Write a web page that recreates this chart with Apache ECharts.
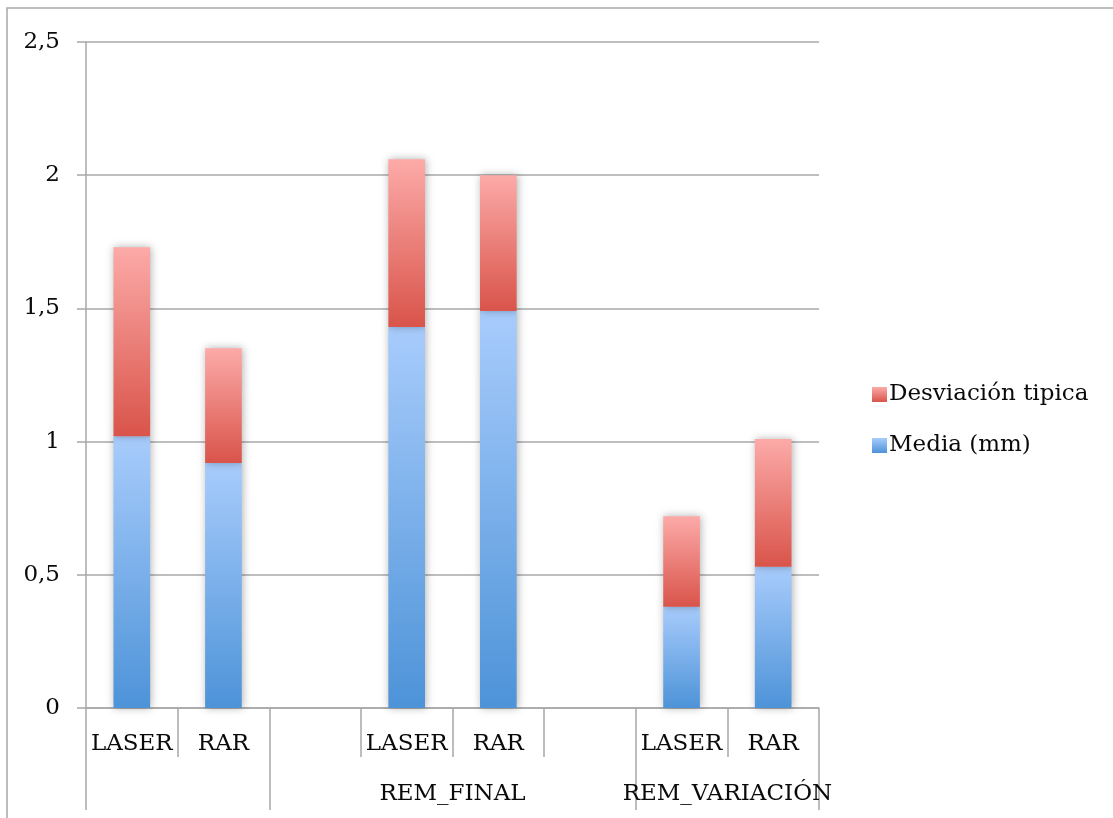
<!DOCTYPE html>
<html>
<head>
<meta charset="utf-8">
<script src="https://cdn.jsdelivr.net/npm/echarts@6/dist/echarts.min.js"></script>
<style>
  html, body { margin: 0; padding: 0; background: #ffffff; }
  #chart { width: 1113px; height: 818px; }
</style>
</head>
<body>
<div id="chart"></div>
<script>
// Category slots along the x axis (empty strings are spacer slots between groups)
const categories = ['LASER', 'RAR', '', 'LASER', 'RAR', '', 'LASER', 'RAR'];
// Group labels and how many slots each group spans
const groupNames = ['', 'REM_FINAL', 'REM_VARIACIÓN'];
const groupSpans = [2, 4, 2];
// Series values (null = spacer slot)
const mediaValues = [1.02, 0.92, null, 1.43, 1.49, null, 0.38, 0.53];
const desviacionValues = [0.71, 0.43, null, 0.63, 0.51, null, 0.34, 0.48];
const seriesNames = ['Media (mm)', 'Desviación tipica'];
// Y axis range
const yMin = 0, yMax = 2.5, yStep = 0.5;

const FONT = 'DejaVu Serif';
const FSIZE = 23;
const GRAY = '#a8a8a8';
const INK = '#0a0a0a';

// Group boundaries and label centres in slot units
const groupEdges = [0];
groupSpans.forEach(s => groupEdges.push(groupEdges[groupEdges.length - 1] + s));
const groupCentres = groupSpans.map((s, i) => groupEdges[i] + s / 2);
const groupLabelAt = {};
groupCentres.forEach((c, i) => { if (groupNames[i]) groupLabelAt[c] = groupNames[i]; });

function grad(top, bottom) {
  return new echarts.graphic.LinearGradient(0, 0, 0, 1, [
    { offset: 0, color: top },
    { offset: 1, color: bottom }
  ]);
}
const blueFill = grad('#a8ccfc', '#4d93d8');
const redFill = grad('#fcaaa8', '#d9544a');

const barStyleCommon = {
  shadowBlur: 8,
  shadowColor: 'rgba(0,0,0,0.3)',
  shadowOffsetX: 1,
  shadowOffsetY: 0
};

const chart = echarts.init(document.getElementById('chart'), null, { renderer: 'canvas' });
chart.setOption({
  animation: false,
  backgroundColor: '#ffffff',
  textStyle: { fontFamily: FONT },
  graphic: [{
    type: 'rect',
    shape: { x: 7, y: 8, width: 1130, height: 840 },
    style: { fill: 'none', stroke: GRAY, lineWidth: 1.5 },
    silent: true
  }],
  grid: { left: 86, right: 294, top: 42, bottom: 110, containLabel: false },
  legend: {
    orient: 'vertical',
    left: 867,
    top: 378,
    icon: 'rect',
    itemWidth: 15,
    itemHeight: 15,
    itemGap: 28,
    data: [seriesNames[1], seriesNames[0]],
    textStyle: { fontFamily: FONT, fontSize: FSIZE, color: INK, padding: [0, 0, 0, -3] }
  },
  xAxis: [{
    type: 'category',
    data: categories,
    boundaryGap: true,
    axisLine: { show: true, lineStyle: { color: GRAY, width: 1.5 } },
    axisTick: { show: true, interval: 0, length: 49, lineStyle: { color: GRAY, width: 1.5 } },
    axisLabel: { interval: 0, margin: 25, fontFamily: FONT, fontSize: FSIZE, color: INK },
    splitLine: { show: false }
  }, {
    type: 'value',
    min: 0,
    max: categories.length,
    position: 'bottom',
    axisLine: { show: false },
    axisTick: {
      show: true, length: 102, customValues: groupEdges,
      lineStyle: { color: GRAY, width: 1.5 }
    },
    axisLabel: {
      show: true, margin: 75, customValues: Object.keys(groupLabelAt).map(Number),
      formatter: v => groupLabelAt[v] || '',
      fontFamily: FONT, fontSize: FSIZE, color: INK
    },
    splitLine: { show: false }
  }],
  yAxis: {
    type: 'value',
    min: yMin, max: yMax, interval: yStep,
    axisLine: { show: true, lineStyle: { color: GRAY, width: 1.5 } },
    axisTick: { show: true, inside: false, length: 9, lineStyle: { color: GRAY, width: 1.5 } },
    axisLabel: {
      margin: 26, fontFamily: FONT, fontSize: FSIZE, color: INK,
      formatter: v => String(v).replace('.', ',')
    },
    splitLine: { show: true, lineStyle: { color: GRAY, width: 1.5 } }
  },
  series: [{
    name: seriesNames[0],
    type: 'bar',
    stack: 'total',
    xAxisIndex: 0,
    barWidth: '40%',
    data: mediaValues,
    itemStyle: Object.assign({ color: blueFill }, barStyleCommon)
  }, {
    name: seriesNames[1],
    type: 'bar',
    stack: 'total',
    xAxisIndex: 0,
    barWidth: '40%',
    data: desviacionValues,
    itemStyle: Object.assign({ color: redFill }, barStyleCommon)
  }]
});
</script>
</body>
</html>
